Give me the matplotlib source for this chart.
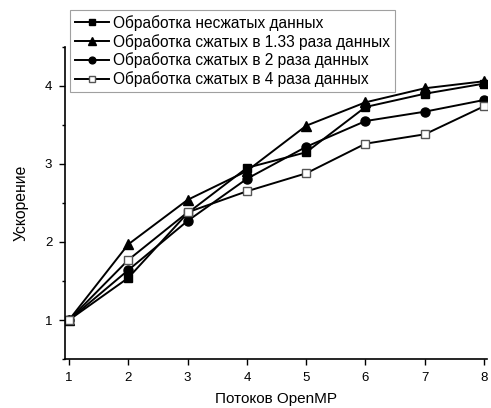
import matplotlib
matplotlib.use('Agg')
import matplotlib.pyplot as plt
from matplotlib.ticker import MultipleLocator

plt.rcParams['font.family'] = ['Liberation Sans', 'DejaVu Sans']

threads = [1, 2, 3, 4, 5, 6, 7, 8]
uncompressed = [1.0, 1.54, 2.37, 2.95, 3.15, 3.73, 3.90, 4.03]
compressed_133 = [1.0, 1.97, 2.54, 2.91, 3.49, 3.79, 3.97, 4.06]
compressed_2 = [1.0, 1.64, 2.27, 2.81, 3.22, 3.55, 3.67, 3.82]
compressed_4 = [1.0, 1.77, 2.38, 2.65, 2.88, 3.26, 3.38, 3.74]

labels = [
    'Обработка несжатых данных',
    'Обработка сжатых в 1.33 раза данных',
    'Обработка сжатых в 2 раза данных',
    'Обработка сжатых в 4 раза данных',
]

fig = plt.figure(figsize=(4.91, 4.08), dpi=100)
ax = fig.add_axes([0.132, 0.12, 0.86, 0.765])

ax.plot(threads, uncompressed, '-s', color='black', lw=1.4, ms=6, label=labels[0])
ax.plot(threads, compressed_133, '-^', color='black', lw=1.4, ms=7, label=labels[1])
ax.plot(threads, compressed_2, '-o', color='black', lw=1.4, ms=6.5, label=labels[2])
ax.plot(threads, compressed_4, '-s', color='black', lw=1.4, ms=6,
        markerfacecolor='white', markeredgecolor='#555555', markeredgewidth=1, label=labels[3])

ax.set_xlim(0.93, 8.05)
ax.set_ylim(0.5, 4.5)
ax.xaxis.set_major_locator(MultipleLocator(1))
ax.yaxis.set_major_locator(MultipleLocator(1))
ax.yaxis.set_minor_locator(MultipleLocator(0.5))
ax.tick_params(axis='both', which='major', direction='out', length=4, width=1, labelsize=9.5, pad=5)
ax.tick_params(axis='y', which='minor', direction='out', length=2.5, width=1)

for s in ['top', 'right']:
    ax.spines[s].set_visible(False)
for s in ['left', 'bottom']:
    ax.spines[s].set_linewidth(1.2)

ax.set_xlabel('Потоков OpenMP', fontsize=11, labelpad=6)
ax.set_ylabel('Ускорение', fontsize=11.3, labelpad=12)

leg = ax.legend(loc='upper left', bbox_to_anchor=(0.012, 1.118), fontsize=11.2,
                frameon=True, fancybox=False, handlelength=2.2, handletextpad=0.3,
                borderpad=0.3, labelspacing=0.2, borderaxespad=0, markerscale=0.75)
leg.get_frame().set_edgecolor('#888888')
leg.get_frame().set_linewidth(0.8)

fig.savefig('out.png', dpi=100)
